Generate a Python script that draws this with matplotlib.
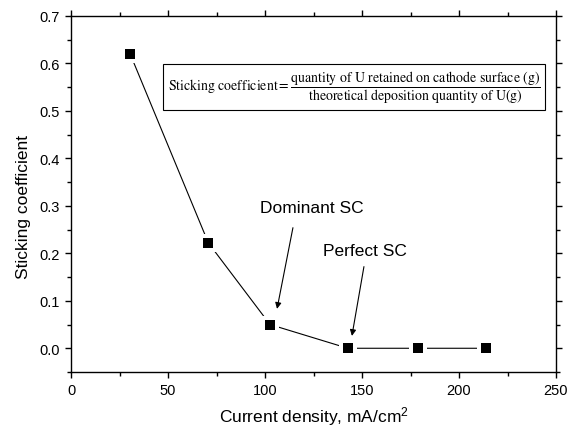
import matplotlib
matplotlib.use("Agg")
import matplotlib.pyplot as plt
from matplotlib.ticker import MultipleLocator

# Data
current_density = [30.5, 70.8, 102.6, 142.7, 179.0, 213.8]
sticking_coeff = [0.62, 0.222, 0.05, 0.0, 0.0, 0.0]

x_label = "Current density, mA/cm$^2$"
y_label = "Sticking coefficient"

plt.rcParams['font.family'] = ['Liberation Sans', 'DejaVu Sans']
plt.rcParams['mathtext.fontset'] = 'custom'
plt.rcParams['mathtext.rm'] = 'Liberation Sans'
plt.rcParams['mathtext.it'] = 'Liberation Sans:italic'

fig = plt.figure(figsize=(5.73, 4.31), dpi=100)
ax = fig.add_axes([71/573, 1-373/431, (556-71)/573, (373-17)/431])

ax.plot(current_density, sticking_coeff, color='black', lw=0.8, zorder=2)
ax.plot(current_density, sticking_coeff, ls='none', marker='s', ms=12.6,
        mfc='white', mec='white', mew=0, zorder=3)
ax.plot(current_density, sticking_coeff, ls='none', marker='s', ms=7.9,
        mfc='black', mec='black', mew=0, zorder=4)

ax.set_xlim(0, 250)
ax.set_ylim(-0.05, 0.7)
ax.xaxis.set_major_locator(MultipleLocator(50))
ax.xaxis.set_minor_locator(MultipleLocator(25))
ax.yaxis.set_major_locator(MultipleLocator(0.1))
ax.yaxis.set_minor_locator(MultipleLocator(0.05))
ax.set_xticks([0, 50, 100, 150, 200, 250])
ax.set_xticklabels(['0', '50', '100', '150', '200', '250'])
ax.set_yticks([0.0, 0.1, 0.2, 0.3, 0.4, 0.5, 0.6, 0.7])
ax.set_yticklabels(['0.0', '0.1', '0.2', '0.3', '0.4', '0.5', '0.6', '0.7'])

ax.tick_params(which='both', direction='out', top=True, right=True,
               labelsize=10.5, width=1.0)
ax.tick_params(which='major', length=4.5, pad=3.5)
ax.tick_params(which='minor', length=3)
for s in ax.spines.values():
    s.set_linewidth(1.0)

ax.set_xlabel(x_label, fontsize=12.5)
ax.set_ylabel(y_label, fontsize=12.5)
ax.xaxis.set_label_coords(0.5, -0.09)
ax.yaxis.set_label_coords(-0.083, 0.466)

# Annotations
ax.text(124.2, 0.296, "Dominant SC", fontsize=12.5, ha='center', va='center')
ax.annotate('', xy=(106.2, 0.083), xytext=(114.4, 0.254),
            arrowprops=dict(arrowstyle='-|>', lw=0.8, color='black',
                            mutation_scale=9, shrinkA=0, shrinkB=0))
ax.text(151.5, 0.207, "Perfect SC", fontsize=12.5, ha='center', va='center')
ax.annotate('', xy=(144.8, 0.026), xytext=(151.0, 0.172),
            arrowprops=dict(arrowstyle='-|>', lw=0.8, color='black',
                            mutation_scale=9, shrinkA=0, shrinkB=0))

formula = (r"$\mathrm{Sticking\ coefficient} = "
           r"\dfrac{\mathrm{quantity\ of\ U\ retained\ on\ cathode\ surface\ (g)}}"
           r"{\mathrm{theoretical\ deposition\ quantity\ of\ U(g)}}$")
ax.text(0.5835, 0.80, formula, transform=ax.transAxes, ha='center', va='center',
        fontsize=10, math_fontfamily='stix',
        bbox=dict(boxstyle='square,pad=0.35', fc='white', ec='black', lw=0.8))

fig.savefig('out.png', dpi=100)
